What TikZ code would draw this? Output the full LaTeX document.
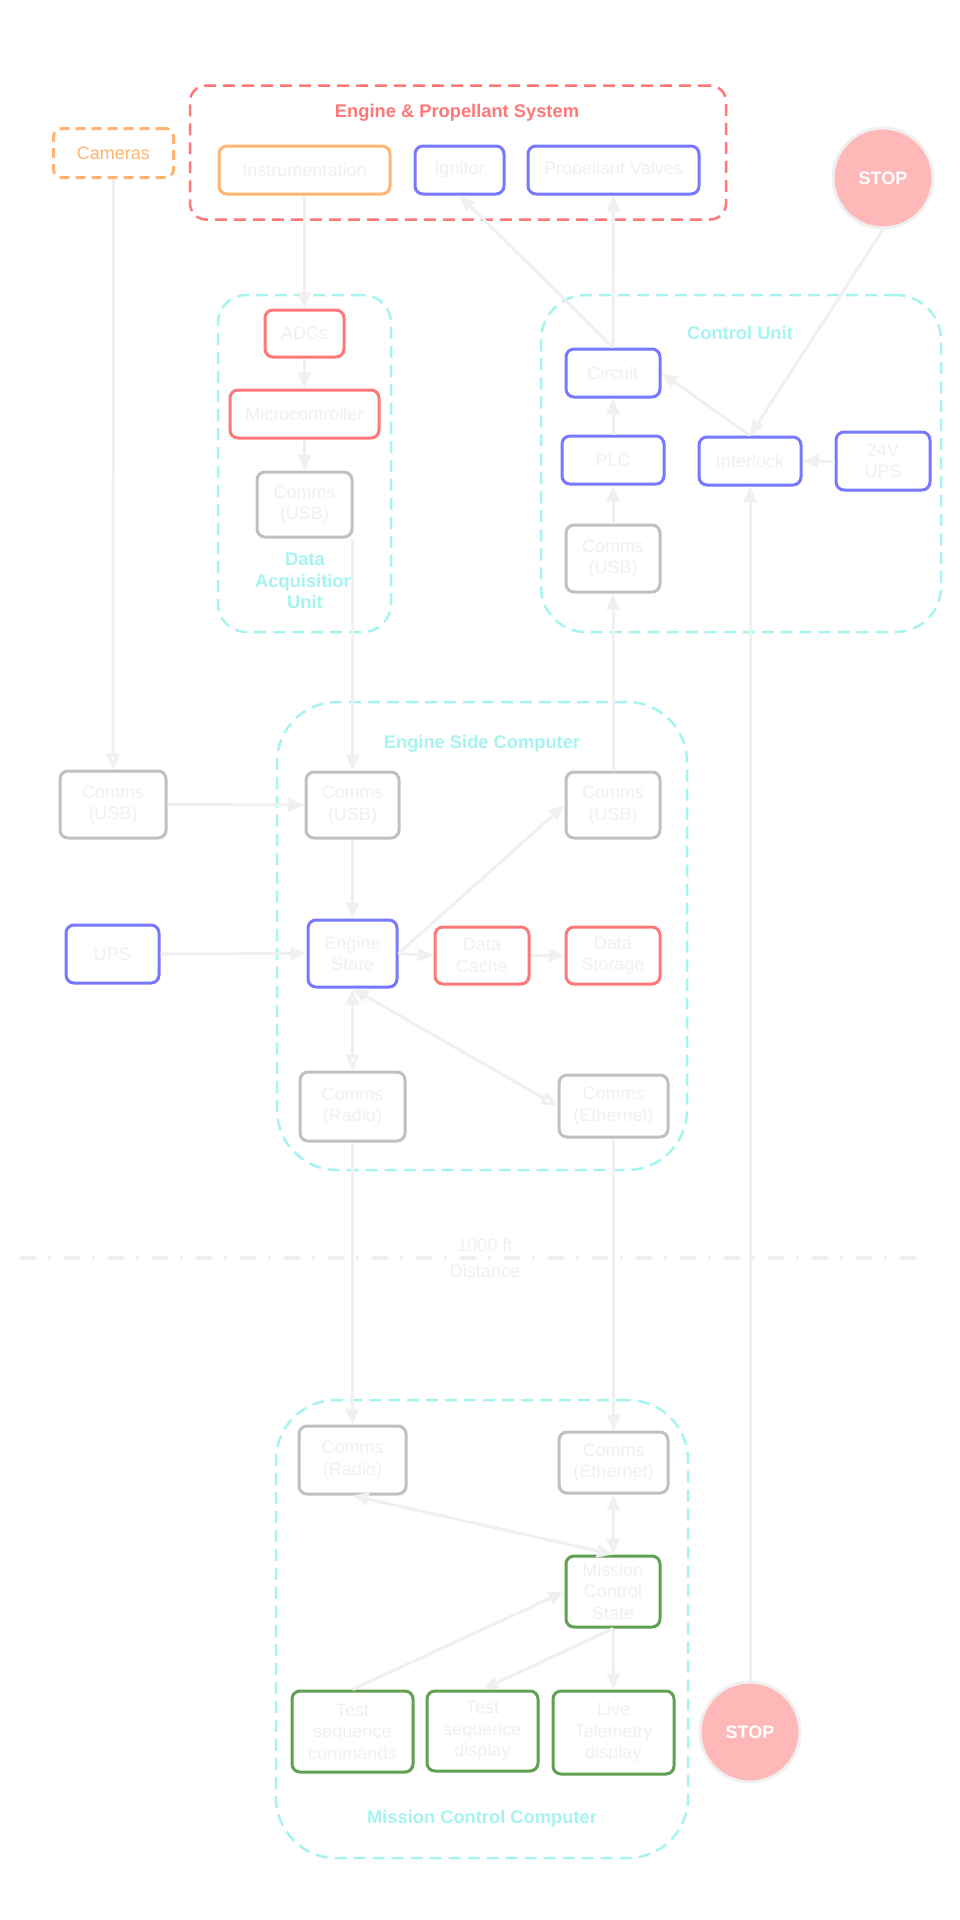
\documentclass[tikz,border=0pt]{standalone}
\usepackage{fontspec}
\setmainfont{Liberation Sans}
\usetikzlibrary{arrows.meta}
\definecolor{cred}{HTML}{FF7777}
\definecolor{corange}{HTML}{FFB570}
\definecolor{cblue}{HTML}{7777FF}
\definecolor{cgray}{HTML}{C0C0C0}
\definecolor{cgreen}{HTML}{60A050}
\definecolor{ccyan}{HTML}{A6F4F0}
\definecolor{ctxt}{HTML}{F0F0F0}
\definecolor{cline}{HTML}{F0F0F0}
\definecolor{cstop}{HTML}{FFB8B8}
\begin{document}
\begin{tikzpicture}[x=1pt,y=-1pt,
  box/.style={draw, rounded corners=8pt, line width=3pt, text=ctxt,
    font=\fontsize{18}{21.5}\selectfont, align=center, inner sep=0pt, fill=white},
  sz/.style 2 args={minimum width=#1pt, minimum height=#2pt},
  redbox/.style={box, draw=cred},
  orbox/.style={box, draw=corange},
  bluebox/.style={box, draw=cblue},
  graybox/.style={box, draw=cgray},
  greenbox/.style={box, draw=cgreen},
  cluster/.style={draw=ccyan, dash pattern=on 12pt off 7pt, line width=2.5pt, inner sep=0pt},
  ctitle/.style={text=ccyan, font=\bfseries\fontsize{18.3}{21.5}\selectfont, align=center},
  stopnode/.style={circle, fill=cstop, draw=cline, line width=3pt, minimum size=100pt,
    inner sep=0pt, text=white, font=\bfseries\fontsize{18}{21.5}\selectfont},
  tipf/.tip={Triangle[length=16pt,width=13pt]},
  tipo/.tip={Triangle[open,length=16pt,width=13pt]},
  conn/.style={draw=cline, line width=3pt, -tipf},
  connopen/.style={draw=cline, line width=3pt, -tipo},
  both/.style={draw=cline, line width=3pt, tipf-tipf},
  bothopen/.style={draw=cline, line width=3pt, tipf-tipo},
]
\useasboundingbox (0,0) rectangle (960,1920);

% clusters
\node[cluster, draw=cred, rounded corners=16pt, sz={536}{134}] (eps) at (458,152.5) {};
\node[text=cred, font=\bfseries\fontsize{18.3}{21.5}\selectfont] (epst) at (457,113) {Engine \& Propellant System};
\node[cluster, rounded corners=28pt, sz={173}{337}] (daq) at (304.5,463.5) {};
\node[ctitle, text width=130pt] (daqt) at (305,581) {Data\\Acquisition\\Unit};
\node[cluster, rounded corners=45pt, sz={400}{337}] (cu) at (741,463.5) {};
\node[ctitle] (cut) at (740,333) {Control Unit};
\node[cluster, rounded corners=60pt, sz={410}{468}] (esc) at (482,936) {};
\node[ctitle] (esct) at (482,744) {Engine Side Computer};
\node[cluster, rounded corners=60pt, sz={412}{458}] (mcc) at (482,1629) {};
\node[ctitle] (mcct) at (482,1819) {Mission Control Computer};

% distance line
\draw[draw=cline, line width=4pt, dash pattern=on 16pt off 12pt on 3pt off 13pt] (20,1258) -- (916,1258);
\node[text=ctxt, font=\fontsize{18}{26}\selectfont, align=center] (dist) at (485,1258) {1000 ft\\Distance};

% top row
\node[box, draw=corange, text=corange, dash pattern=on 10pt off 6pt, sz={120}{49}] (cam) at (113.5,153) {Cameras};
\node[orbox, sz={171}{48}] (instr) at (304.5,170) {Instrumentation};
\node[bluebox, sz={89}{48}] (ign) at (459.5,170) {Ignitor};
\node[bluebox, sz={171}{48}] (valves) at (613.5,170) {Propellant Valves};
\node[stopnode] (stop1) at (883,178) {STOP};

% DAQ
\node[redbox, sz={79}{47}] (adcs) at (304.5,333.5) {ADCs};
\node[redbox, sz={149}{48}] (micro) at (304.5,414) {Microcontroller};
\node[graybox, sz={95}{65}] (daqc) at (304.5,504.5) {Comms\\(USB)};

% Control unit
\node[bluebox, sz={94}{48}] (circ) at (613,373) {Circuit};
\node[bluebox, sz={102}{48}] (plc) at (613,460) {PLC};
\node[graybox, sz={94}{67}] (cuc) at (613,558.5) {Comms\\(USB)};
\node[bluebox, sz={102}{48}] (inter) at (750,461) {Interlock};
\node[bluebox, sz={94}{58}] (ups24) at (883,461) {24V\\UPS};

% Engine side
\node[graybox, sz={106}{67}] (commsl) at (113,804.5) {Comms\\(USB)};
\node[graybox, sz={93}{66}] (esc1) at (352.5,805) {Comms\\(USB)};
\node[graybox, sz={94}{66}] (esc2) at (613,805) {Comms\\(USB)};
\node[bluebox, sz={93}{58}] (ups) at (112.5,954) {UPS};
\node[bluebox, sz={89}{67}] (estate) at (352.5,953.5) {Engine\\State};
\node[redbox, sz={94}{57}] (cache) at (482,955.5) {Data\\Cache};
\node[redbox, sz={94}{57}] (storage) at (613,955.5) {Data\\Storage};
\node[graybox, sz={105}{69}] (radio1) at (352.5,1106.5) {Comms\\(Radio)};
\node[graybox, sz={109}{62}] (eth1) at (613.5,1106) {Comms\\(Ethernet)};

% Mission control
\node[graybox, sz={107}{68}] (radio2) at (352.5,1460) {Comms\\(Radio)};
\node[graybox, sz={109}{61}] (eth2) at (613.5,1462.5) {Comms\\(Ethernet)};
\node[greenbox, sz={94}{71}] (mcs) at (613,1591.5) {Mission\\Control\\State};
\node[greenbox, sz={121}{81}] (tsc) at (352.5,1731.5) {Test\\sequence\\commands};
\node[greenbox, sz={111}{80}] (tsd) at (482.5,1731) {Test\\sequence\\display};
\node[greenbox, sz={121}{83}] (ltd) at (613.5,1732.5) {Live\\Telemetry\\display};
\node[stopnode] (stop2) at (750,1732) {STOP};

% connectors
\draw[connopen] (cam.south) -- (commsl.north);
\draw[conn] (instr.south) -- (adcs.north);
\draw[conn] (adcs.south) -- (micro.north);
\draw[conn] (micro.south) -- (daqc.north);
\draw[conn] (esc1.north |- daqc.south) -- (esc1.north);
\draw[conn] (commsl.east) -- (esc1.west);
\draw[conn] (ups.east) -- (estate.west);
\draw[conn] (esc1.south) -- (estate.north);
\draw[conn] (estate.east) -- (esc2.west);
\draw[conn] (estate.east) -- (cache.west);
\draw[conn] (cache.east) -- (storage.west);
\draw[bothopen] (estate.south) -- (radio1.north);
\draw[bothopen] (estate.south) -- (eth1.west);
\draw[conn] (esc2.north) -- (cuc.south);
\draw[conn] (cuc.north) -- (plc.south);
\draw[conn] (plc.north) -- (circ.south);
\draw[conn] (circ.north) -- (valves.south);
\draw[conn] (circ.north) -- (ign.south);
\draw[conn] (inter.north) -- (circ.east);
\draw[conn] (stop1.south) -- (inter.north);
\draw[conn] (ups24.west) -- (inter.east);
\draw[conn] (stop2.north) -- (inter.south);
\draw[conn] (radio1.south) -- (radio2.north);
\draw[conn] (eth1.south) -- (eth2.north);
\draw[both] (radio2.south) -- (mcs.north);
\draw[both] (eth2.south) -- (mcs.north);
\draw[conn] (tsc.north) -- (mcs.west);
\draw[conn] (mcs.south) -- (tsd.north);
\draw[conn] (mcs.south) -- (ltd.north);
\end{tikzpicture}
\end{document}
